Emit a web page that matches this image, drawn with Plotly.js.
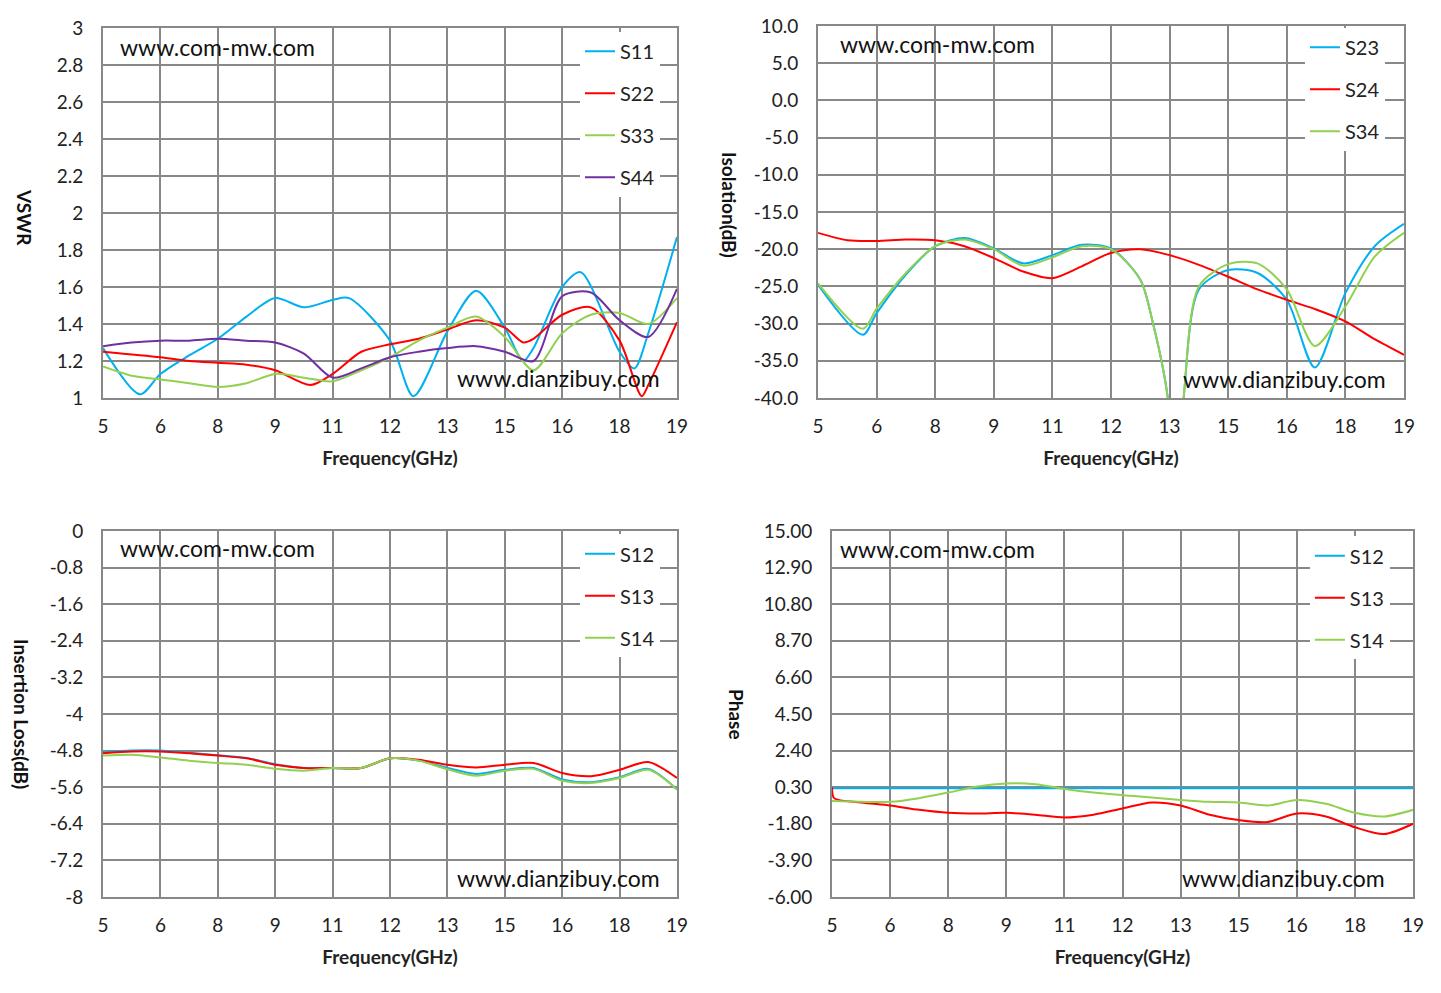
<!DOCTYPE html>
<html>
<head>
<meta charset="utf-8">
<script src="https://cdn.plot.ly/plotly-3.0.1.min.js"></script>
<style>body{margin:0;background:#fff}#chart{width:1441px;height:993px}</style>
</head>
<body>
<div id="chart"></div>
<script>
// frequency grid (GHz), one point every half grid step
var freq = [5, 5.7, 6.4, 7.1, 7.8, 8.5, 9.2, 9.9, 10.6, 11.3, 12, 12.7, 13.4, 14.1, 14.8, 15.5, 16.2, 16.9, 17.6, 18.3, 19];
var xTickVals = [5, 6.4, 7.8, 9.2, 10.6, 12, 13.4, 14.8, 16.2, 17.6, 19];
var xTickText = ["5", "6", "8", "9", "11", "12", "13", "15", "16", "18", "19"];

// VSWR
var s11Freq = [5, 5.9, 6.4, 7.1, 7.8, 8.5, 9.2, 9.9, 10.6, 11.0, 12, 12.57, 13.4, 14.1, 14.8, 15.25, 15.5, 16.2, 16.65, 17.6, 17.96, 18.3, 19];
var s11 = [1.27, 1.02, 1.13, 1.23, 1.32, 1.44, 1.54, 1.49, 1.53, 1.54, 1.31, 1.01, 1.36, 1.58, 1.38, 1.2, 1.27, 1.6, 1.68, 1.25, 1.16, 1.35, 1.87];
var s22Freq = [5, 6.4, 7.1, 7.8, 8.5, 9.2, 10.06, 10.6, 11.3, 12, 12.7, 13.4, 14.1, 14.8, 15.25, 15.5, 16.2, 16.9, 17.6, 18.14, 18.3, 19];
var s22 = [1.25, 1.22, 1.2, 1.19, 1.18, 1.15, 1.07, 1.13, 1.25, 1.29, 1.32, 1.37, 1.42, 1.38, 1.3, 1.32, 1.45, 1.49, 1.31, 1.01, 1.07, 1.41];
var s33 = [1.17, 1.12, 1.1, 1.08, 1.06, 1.08, 1.13, 1.11, 1.09, 1.15, 1.22, 1.31, 1.38, 1.44, 1.33, 1.15, 1.35, 1.45, 1.46, 1.4, 1.54];
var s44 = [1.28, 1.3, 1.31, 1.31, 1.32, 1.31, 1.3, 1.24, 1.11, 1.16, 1.22, 1.25, 1.27, 1.28, 1.25, 1.2, 1.55, 1.57, 1.42, 1.33, 1.59];

// Isolation (dB)
var isoFreq = [5, 6.07, 6.4, 7.1, 7.8, 8.5, 9.2, 9.9, 10.6, 11.3, 12, 12.7, 13.0, 13.35, 13.55, 13.74, 14.1, 14.8, 15.5, 16.2, 16.87, 17.6, 18.3, 19];
var s23 = [-24.8, -31.5, -28.6, -23.4, -19.6, -18.5, -19.9, -21.9, -20.8, -19.4, -19.9, -24.1, -29.9, -39.7, -55, -39.7, -25.4, -22.8, -23.2, -26.8, -35.9, -25.9, -19.6, -16.6];
var s34 = [-24.6, -30.7, -28.0, -23.2, -19.6, -18.7, -20.0, -22.2, -21.1, -19.6, -20.0, -24.1, -29.9, -39.7, -55, -39.7, -25.0, -22.0, -21.9, -25.4, -33.0, -27.7, -21.0, -17.8];
var s24 = [-17.8, -18.8, -18.9, -18.7, -18.8, -19.6, -21.2, -23.0, -23.9, -22.3, -20.5, -20.0, -20.8, -22.1, -23.7, -25.4, -26.8, -28.1, -29.7, -32.1, -34.2];

// Insertion loss (dB)
var il12 = [-4.84, -4.8, -4.8, -4.85, -4.9, -4.96, -5.1, -5.18, -5.18, -5.18, -4.97, -5.02, -5.18, -5.31, -5.22, -5.18, -5.43, -5.49, -5.38, -5.2, -5.65];
var il13 = [-4.86, -4.82, -4.82, -4.86, -4.91, -4.97, -5.11, -5.18, -5.18, -5.18, -4.97, -5.0, -5.11, -5.17, -5.11, -5.07, -5.29, -5.36, -5.22, -5.05, -5.4];
var il14 = [-4.91, -4.89, -4.95, -5.02, -5.07, -5.11, -5.2, -5.24, -5.18, -5.18, -4.97, -5.02, -5.21, -5.35, -5.24, -5.2, -5.46, -5.51, -5.4, -5.22, -5.65];

// Phase
var ph12 = [0.24, 0.24, 0.24, 0.24, 0.24, 0.24, 0.24, 0.24, 0.24, 0.24, 0.24, 0.24, 0.24, 0.24, 0.24, 0.24, 0.24, 0.24, 0.24, 0.24, 0.24];
var ph13Freq = [5, 5.05, 5.7, 6.4, 7.1, 7.8, 8.5, 9.2, 9.9, 10.6, 11.3, 12, 12.7, 13.4, 14.1, 14.8, 15.5, 16.2, 16.9, 17.6, 18.3, 19];
var ph13 = [0.3, -0.33, -0.58, -0.75, -1.0, -1.17, -1.21, -1.17, -1.28, -1.44, -1.28, -0.92, -0.58, -0.75, -1.28, -1.59, -1.7, -1.21, -1.38, -2.0, -2.39, -1.8];
var ph14 = [-0.5, -0.54, -0.54, -0.33, -0.01, 0.34, 0.51, 0.47, 0.2, -0.01, -0.16, -0.29, -0.43, -0.54, -0.58, -0.75, -0.43, -0.65, -1.17, -1.38, -1.0];

var CY = "#00B0F0", RD = "#FF0000", GR = "#92D050", PU = "#7030A0";
var FONT = "Lato, 'Open Sans', sans-serif";

function tr(x, y, name, color, xa, ya, leg) {
  return {x: x, y: y, name: name, type: "scatter", mode: "lines",
    line: {color: color, width: 2, shape: "spline", smoothing: 0.8},
    xaxis: xa, yaxis: ya, legend: leg, legendgroup: leg + name};
}

var data = [
  tr(s11Freq, s11, "S11", CY, "x", "y", "legend"),
  tr(s22Freq, s22, "S22", RD, "x", "y", "legend"),
  tr(freq, s33, "S33", GR, "x", "y", "legend"),
  tr(freq, s44, "S44", PU, "x", "y", "legend"),
  tr(isoFreq, s23, "S23", CY, "x2", "y2", "legend2"),
  tr(freq, s24, "S24", RD, "x2", "y2", "legend2"),
  tr(isoFreq, s34, "S34", GR, "x2", "y2", "legend2"),
  tr(freq, il12, "S12", CY, "x3", "y3", "legend3"),
  tr(freq, il13, "S13", RD, "x3", "y3", "legend3"),
  tr(freq, il14, "S14", GR, "x3", "y3", "legend3"),
  tr(freq, ph12, "S12", CY, "x4", "y4", "legend4"),
  tr(ph13Freq, ph13, "S13", RD, "x4", "y4", "legend4"),
  tr(freq, ph14, "S14", GR, "x4", "y4", "legend4")
];

function xax(dom, anchor) {
  return {domain: dom, anchor: anchor, range: [5, 19], tickvals: xTickVals, ticktext: xTickText,
    showgrid: true, gridcolor: "#888", gridwidth: 2, showline: true, linecolor: "#888", linewidth: 2,
    mirror: true, zeroline: false, ticks: "", ticklabelstandoff: 10, tickfont: {size: 19, color: "#222"},
    title: {text: "<b>Frequency(GHz)</b>", font: {size: 19, color: "#222"}, standoff: 16}};
}
function yax(dom, anchor, range, vals, text) {
  return {domain: dom, anchor: anchor, range: range, tickvals: vals, ticktext: text,
    showgrid: true, gridcolor: "#888", gridwidth: 2, showline: true, linecolor: "#888", linewidth: 2,
    mirror: true, zeroline: false, ticks: "", ticklabelstandoff: 14, tickfont: {size: 19, color: "#222"}};
}

var vsVals = [1, 1.2, 1.4, 1.6, 1.8, 2, 2.2, 2.4, 2.6, 2.8, 3];
var isoVals = [-40, -35, -30, -25, -20, -15, -10, -5, 0, 5, 10];
var ilVals = [-8, -7.2, -6.4, -5.6, -4.8, -4, -3.2, -2.4, -1.6, -0.8, 0];
var phVals = [-6, -3.9, -1.8, 0.3, 2.4, 4.5, 6.6, 8.7, 10.8, 12.9, 15];

function lg(x, y) {
  return {x: x, y: y, xanchor: "left", yanchor: "top", bgcolor: "#fff",
    font: {size: 20, color: "#222", family: FONT}, tracegroupgap: 13, traceorder: "grouped", itemwidth: 30};
}

var ann = [];
function note(x, y, text, size, angle, xanchor) {
  ann.push({x: x / 1441, y: 1 - y / 993, xref: "paper", yref: "paper", text: text, showarrow: false,
    xanchor: xanchor || "left", yanchor: "middle", textangle: angle || 0,
    font: {size: size, color: "#111", family: FONT}});
}
note(118, 47, "www.com-mw.com", 23); note(455, 378, "www.dianzibuy.com", 23);
note(838, 44, "www.com-mw.com", 23); note(1181, 379, "www.dianzibuy.com", 23);
note(118, 548, "www.com-mw.com", 23); note(455, 878, "www.dianzibuy.com", 23);
note(838, 549, "www.com-mw.com", 23); note(1180, 878, "www.dianzibuy.com", 23);
note(25, 217, "<b>VSWR</b>", 19, 90, "center");
note(729, 205, "<b>Isolation(dB)</b>", 19, 90, "center");
note(22, 714, "<b>Insertion Loss(dB)</b>", 19, 90, "center");
note(737, 714, "<b>Phase</b>", 19, 90, "center");

var layout = {
  width: 1441, height: 993,
  margin: {t: 0, b: 0, l: 0, r: 0},
  paper_bgcolor: "#fff", plot_bgcolor: "#fff",
  font: {family: FONT, color: "#222"},
  xaxis: xax([0.0715, 0.4698], "y"),
  yaxis: yax([0.5992, 0.9718], "x", [1, 3], vsVals, vsVals.map(String)),
  xaxis2: xax([0.5677, 0.9743], "y2"),
  yaxis2: yax([0.5992, 0.9738], "x2", [-40, 10], isoVals, isoVals.map(function (v) { return v.toFixed(1); })),
  xaxis3: xax([0.0715, 0.4698], "y3"),
  yaxis3: yax([0.0967, 0.4653], "x3", [-8, 0], ilVals, ilVals.map(String)),
  xaxis4: xax([0.5774, 0.9806], "y4"),
  yaxis4: yax([0.0967, 0.4653], "x4", [-6, 15], phVals, phVals.map(function (v) { return v.toFixed(2); })),
  legend: lg(0.4025, 0.968),
  legend2: lg(0.9056, 0.972),
  legend3: lg(0.4025, 0.462),
  legend4: lg(0.909, 0.46),
  annotations: ann
};

Plotly.newPlot("chart", data, layout, {displayModeBar: false});
</script>
</body>
</html>
